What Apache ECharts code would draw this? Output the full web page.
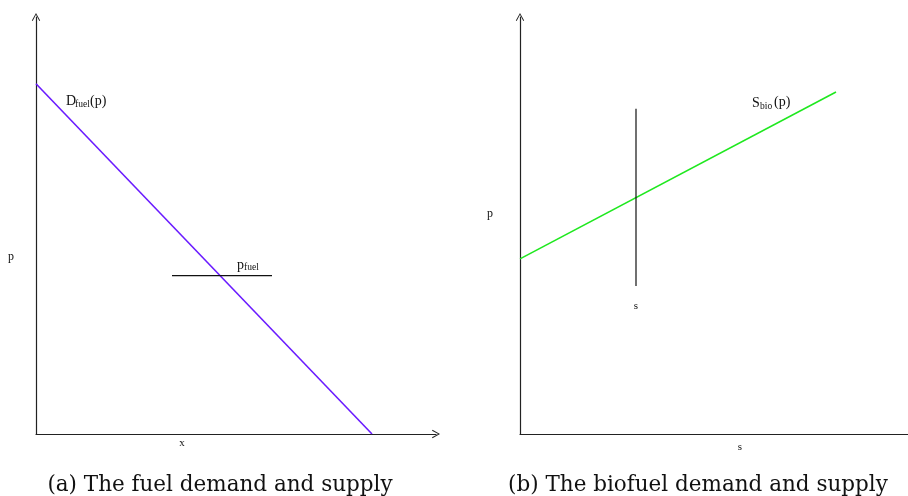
<!DOCTYPE html>
<html>
<head>
<meta charset="utf-8">
<script src="https://cdn.jsdelivr.net/npm/echarts@6/dist/echarts.min.js"></script>
<style>
  html, body { margin: 0; padding: 0; background: #fff; }
  #chart { width: 908px; height: 496px; }
</style>
</head>
<body>
<div id="chart"></div>
<script>
// Panel (a): fuel market
const fuelDemand = [[0, 84], [84, 0]];          // D_fuel(p), downward sloping
const fuelPrice = [[34, 38], [59, 38]];         // p_fuel level
// Panel (b): biofuel market
const bioSupply = [[0, 42], [79, 82]];          // S_bio(p), upward sloping
const bioQuantity = [[29, 35.5], [29, 78]];     // s, fixed quantity

const captions = ['(a) The fuel demand and supply', '(b) The biofuel demand and supply'];

const chart = echarts.init(document.getElementById('chart'), null, { renderer: 'canvas' });

const serif = 'Liberation Serif';
const chevron = 'path://M5,0 L10,9 L9,9.6 L5,2.2 L1,9.6 L0,9 Z';

function makeAxis(idx, max, arrow) {
  return {
    type: 'value', gridIndex: idx, min: 0, max: max,
    axisLine: {
      show: true,
      symbol: ['none', arrow ? chevron : 'none'],
      symbolSize: [9, 8],
      lineStyle: { color: '#222', width: 1.2 }
    },
    axisTick: { show: false }, axisLabel: { show: false },
    splitLine: { show: false }
  };
}

function label(x, y, text, size, align) {
  return {
    type: 'text', x: x, y: y, silent: true,
    style: {
      text: text, fill: '#111', font: size + 'px "' + serif + '"',
      textAlign: align || 'left', textVerticalAlign: 'middle'
    }
  };
}

const option = {
  backgroundColor: '#fff',
  animation: false,
  grid: [
    { left: 36, top: 17, width: 400, height: 417 },
    { left: 520, top: 17, width: 388, height: 417 }
  ],
  xAxis: [makeAxis(0, 100, true), makeAxis(1, 97, false)],
  yAxis: [makeAxis(0, 100, true), makeAxis(1, 100, true)],
  series: [
    {
      type: 'line', xAxisIndex: 0, yAxisIndex: 0, data: fuelDemand,
      symbol: 'none', lineStyle: { color: '#6a1bff', width: 1.6 }
    },
    {
      type: 'line', xAxisIndex: 0, yAxisIndex: 0, data: fuelPrice,
      symbol: 'none', lineStyle: { color: '#111', width: 1.2 }
    },
    {
      type: 'line', xAxisIndex: 1, yAxisIndex: 1, data: bioSupply,
      symbol: 'none', lineStyle: { color: '#1fe81f', width: 1.6 }
    },
    {
      type: 'line', xAxisIndex: 1, yAxisIndex: 1, data: bioQuantity,
      symbol: 'none', lineStyle: { color: '#111', width: 1.2 }
    }
  ],
  graphic: [
    // panel (a) texts
    label(66, 101, 'D', 14),
    label(75, 104, 'fuel', 9.5),
    label(90, 101, '(p)', 14),
    label(237, 265, 'p', 14),
    label(244, 267, 'fuel', 9.5),
    label(11, 257, 'p', 12, 'center'),
    label(182, 443, 'x', 11, 'center'),
    // panel (b) texts
    label(752, 103, 'S', 14),
    label(760, 106, 'bio', 9.5),
    label(774, 102, '(p)', 14),
    label(490, 214, 'p', 12, 'center'),
    label(636, 306, 's', 11, 'center'),
    label(740, 447, 's', 11, 'center'),
    // captions
    {
      type: 'text', x: 220, y: 485, silent: true,
      style: { text: captions[0], fill: '#111', font: '21.5px "DejaVu Serif"', textAlign: 'center', textVerticalAlign: 'middle' }
    },
    {
      type: 'text', x: 698, y: 485, silent: true,
      style: { text: captions[1], fill: '#111', font: '21.5px "DejaVu Serif"', textAlign: 'center', textVerticalAlign: 'middle' }
    }
  ]
};
chart.setOption(option);
</script>
</body>
</html>
